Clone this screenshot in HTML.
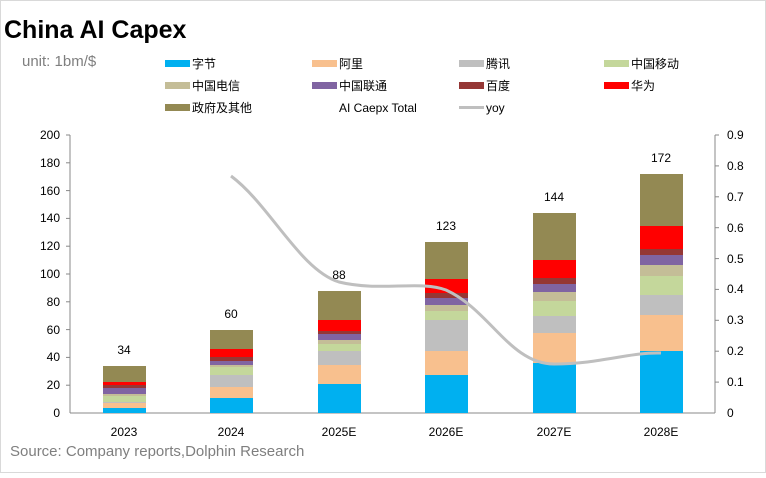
<!DOCTYPE html>
<html><head><meta charset="utf-8"><style>
body{margin:0;background:#fff;}
svg text{font-family:"Liberation Sans","Noto Sans CJK SC",sans-serif;}
</style></head><body>
<svg width="766" height="473" xmlns="http://www.w3.org/2000/svg">
<rect x="0.5" y="0.5" width="765" height="472" fill="#fff" stroke="#d9d9d9"/>
<text x="4" y="38" font-size="25" font-weight="bold" fill="#000">China AI Capex</text>
<text x="22" y="66" font-size="15" fill="#7f7f7f">unit: 1bm/$</text>
<g font-size="12" fill="#000">
<rect x="165" y="60" width="25" height="7" fill="#00b0f0"/><text x="192" y="68">字节</text>
<rect x="312" y="60" width="25" height="7" fill="#f8c08e"/><text x="339" y="68">阿里</text>
<rect x="459" y="60" width="25" height="7" fill="#bfbfbf"/><text x="486" y="68">腾讯</text>
<rect x="604" y="60" width="25" height="7" fill="#c4d79b"/><text x="631" y="68">中国移动</text>
<rect x="165" y="82" width="25" height="7" fill="#c4bd97"/><text x="192" y="90">中国电信</text>
<rect x="312" y="82" width="25" height="7" fill="#8064a2"/><text x="339" y="90">中国联通</text>
<rect x="459" y="82" width="25" height="7" fill="#953735"/><text x="486" y="90">百度</text>
<rect x="604" y="82" width="25" height="7" fill="#ff0000"/><text x="631" y="90">华为</text>
<rect x="165" y="104" width="25" height="7" fill="#938953"/><text x="192" y="112">政府及其他</text>
<text x="339" y="112">AI Caepx Total</text>
<rect x="459" y="106" width="25" height="3" fill="#bfbfbf"/><text x="486" y="112">yoy</text>
</g>
<!-- axes -->
<line x1="70" y1="135" x2="70" y2="413" stroke="#888"/>
<line x1="70" y1="413" x2="715" y2="413" stroke="#888"/>
<line x1="715" y1="135" x2="715" y2="413" stroke="#888"/>
<g stroke="#888">
<line x1="66" y1="135" x2="70" y2="135"/><line x1="66" y1="162.8" x2="70" y2="162.8"/><line x1="66" y1="190.6" x2="70" y2="190.6"/><line x1="66" y1="218.4" x2="70" y2="218.4"/><line x1="66" y1="246.2" x2="70" y2="246.2"/><line x1="66" y1="274" x2="70" y2="274"/><line x1="66" y1="301.8" x2="70" y2="301.8"/><line x1="66" y1="329.6" x2="70" y2="329.6"/><line x1="66" y1="357.4" x2="70" y2="357.4"/><line x1="66" y1="385.2" x2="70" y2="385.2"/>
<line x1="715" y1="135" x2="719" y2="135"/><line x1="715" y1="165.9" x2="719" y2="165.9"/><line x1="715" y1="196.8" x2="719" y2="196.8"/><line x1="715" y1="227.7" x2="719" y2="227.7"/><line x1="715" y1="258.6" x2="719" y2="258.6"/><line x1="715" y1="289.4" x2="719" y2="289.4"/><line x1="715" y1="320.3" x2="719" y2="320.3"/><line x1="715" y1="351.2" x2="719" y2="351.2"/><line x1="715" y1="382.1" x2="719" y2="382.1"/>
</g>
<g font-size="12" fill="#000" text-anchor="end">
<text x="60" y="139">200</text><text x="60" y="167">180</text><text x="60" y="195">160</text><text x="60" y="222">140</text><text x="60" y="250">120</text><text x="60" y="278">100</text><text x="60" y="306">80</text><text x="60" y="334">60</text><text x="60" y="361">40</text><text x="60" y="389">20</text><text x="60" y="417">0</text>
</g>
<g font-size="12" fill="#000">
<text x="727" y="139">0.9</text><text x="727" y="170">0.8</text><text x="727" y="201">0.7</text><text x="727" y="232">0.6</text><text x="727" y="263">0.5</text><text x="727" y="293">0.4</text><text x="727" y="324">0.3</text><text x="727" y="355">0.2</text><text x="727" y="386">0.1</text><text x="727" y="417">0</text>
</g>
<!-- bars -->
<g>
<rect x="103" y="408" width="43" height="5" fill="#00b0f0"/><rect x="103" y="403" width="43" height="5" fill="#f8c08e"/><rect x="103" y="402" width="43" height="1" fill="#bfbfbf"/><rect x="103" y="396" width="43" height="6" fill="#c4d79b"/><rect x="103" y="394" width="43" height="2" fill="#c4bd97"/><rect x="103" y="388" width="43" height="6" fill="#8064a2"/><rect x="103" y="385" width="43" height="3" fill="#953735"/><rect x="103" y="382" width="43" height="3" fill="#ff0000"/><rect x="103" y="366" width="43" height="16" fill="#938953"/>
<rect x="210" y="398" width="43" height="15" fill="#00b0f0"/><rect x="210" y="387" width="43" height="11" fill="#f8c08e"/><rect x="210" y="375" width="43" height="12" fill="#bfbfbf"/><rect x="210" y="367" width="43" height="8" fill="#c4d79b"/><rect x="210" y="365" width="43" height="2" fill="#c4bd97"/><rect x="210" y="361" width="43" height="4" fill="#8064a2"/><rect x="210" y="357" width="43" height="4" fill="#953735"/><rect x="210" y="349" width="43" height="8" fill="#ff0000"/><rect x="210" y="330" width="43" height="19" fill="#938953"/>
<rect x="318" y="384" width="43" height="29" fill="#00b0f0"/><rect x="318" y="365" width="43" height="19" fill="#f8c08e"/><rect x="318" y="351" width="43" height="14" fill="#bfbfbf"/><rect x="318" y="344" width="43" height="7" fill="#c4d79b"/><rect x="318" y="340" width="43" height="4" fill="#c4bd97"/><rect x="318" y="334" width="43" height="6" fill="#8064a2"/><rect x="318" y="331" width="43" height="3" fill="#953735"/><rect x="318" y="320" width="43" height="11" fill="#ff0000"/><rect x="318" y="291" width="43" height="29" fill="#938953"/>
<rect x="425" y="375" width="43" height="38" fill="#00b0f0"/><rect x="425" y="351" width="43" height="24" fill="#f8c08e"/><rect x="425" y="320" width="43" height="31" fill="#bfbfbf"/><rect x="425" y="311" width="43" height="9" fill="#c4d79b"/><rect x="425" y="305" width="43" height="6" fill="#c4bd97"/><rect x="425" y="298" width="43" height="7" fill="#8064a2"/><rect x="425" y="293" width="43" height="5" fill="#953735"/><rect x="425" y="279" width="43" height="14" fill="#ff0000"/><rect x="425" y="242" width="43" height="37" fill="#938953"/>
<rect x="533" y="363" width="43" height="50" fill="#00b0f0"/><rect x="533" y="333" width="43" height="30" fill="#f8c08e"/><rect x="533" y="316" width="43" height="17" fill="#bfbfbf"/><rect x="533" y="301" width="43" height="15" fill="#c4d79b"/><rect x="533" y="292" width="43" height="9" fill="#c4bd97"/><rect x="533" y="284" width="43" height="8" fill="#8064a2"/><rect x="533" y="278" width="43" height="6" fill="#953735"/><rect x="533" y="260" width="43" height="18" fill="#ff0000"/><rect x="533" y="213" width="43" height="47" fill="#938953"/>
<rect x="640" y="351" width="43" height="62" fill="#00b0f0"/><rect x="640" y="315" width="43" height="36" fill="#f8c08e"/><rect x="640" y="295" width="43" height="20" fill="#bfbfbf"/><rect x="640" y="276" width="43" height="19" fill="#c4d79b"/><rect x="640" y="265" width="43" height="11" fill="#c4bd97"/><rect x="640" y="255" width="43" height="10" fill="#8064a2"/><rect x="640" y="249" width="43" height="6" fill="#953735"/><rect x="640" y="226" width="43" height="23" fill="#ff0000"/><rect x="640" y="174" width="43" height="52" fill="#938953"/>
</g>
<g font-size="12" fill="#000" text-anchor="middle">
<text x="124" y="354">34</text><text x="231" y="318">60</text><text x="339" y="279">88</text><text x="446" y="230">123</text><text x="554" y="201">144</text><text x="661" y="162">172</text>
</g>
<path d="M231,176 C270,205 300,270 339,282 C380,292 420,280 446,290 C490,310 510,364 554,364 C600,364 630,352 661,353" fill="none" stroke="#bfbfbf" stroke-width="3"/>
<g font-size="12" fill="#000" text-anchor="middle">
<text x="124" y="436">2023</text><text x="231" y="436">2024</text><text x="339" y="436">2025E</text><text x="446" y="436">2026E</text><text x="554" y="436">2027E</text><text x="661" y="436">2028E</text>
</g>
<text x="10" y="456" font-size="15" fill="#7f7f7f">Source: Company reports,Dolphin Research</text>
</svg>
</body></html>
